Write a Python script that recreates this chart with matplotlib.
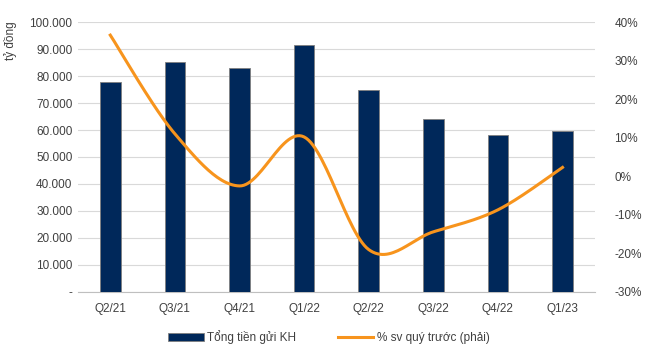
import numpy as np
import matplotlib.pyplot as plt
from matplotlib.ticker import FuncFormatter

plt.rcParams['font.family'] = ['Liberation Sans', 'DejaVu Sans']

quarters = ['Q2/21', 'Q3/21', 'Q4/21', 'Q1/22', 'Q2/22', 'Q3/22', 'Q4/22', 'Q1/23']
deposits = [77800, 85200, 83000, 91500, 74800, 64000, 58100, 59600]
qoq_pct = [36.6, 11.0, -2.5, 10.2, -19.0, -14.4, -8.7, 2.3]

bar_color = '#00285a'
line_color = '#f7941d'
grid_color = '#d9d9d9'
text_color = '#404040'


# smooth curve through the points (excel style smoothed line)
def smooth(xs, ys, n=30):
    pts = np.column_stack([xs, ys]).astype(float)
    pts = np.vstack([pts[0], pts, pts[-1]])
    out = []
    for i in range(1, len(pts) - 2):
        p0, p1, p2, p3 = pts[i - 1], pts[i], pts[i + 1], pts[i + 2]
        c1 = p1 + (p2 - p0) / 6
        c2 = p2 - (p3 - p1) / 6
        t = np.linspace(0, 1, n)[:, None]
        seg = (1 - t) ** 3 * p1 + 3 * (1 - t) ** 2 * t * c1 + 3 * (1 - t) * t ** 2 * c2 + t ** 3 * p2
        out.append(seg)
    out = np.vstack(out)
    return out[:, 0], out[:, 1]


fig = plt.figure(figsize=(6.58, 3.55), dpi=100)
ax = fig.add_axes([0.1185, 0.1775, 0.7855, 0.7605])
ax2 = ax.twinx()

x = np.arange(len(quarters))
ax.bar(x, deposits, width=0.32, color=bar_color, edgecolor='#7f7f7f', linewidth=0.6,
       label='Tổng tiền gửi KH', zorder=3)
ax.set_ylim(0, 100000)
ax.set_yticks(np.arange(0, 100001, 10000))
ax.yaxis.set_major_formatter(FuncFormatter(lambda v, _: '-' if v == 0 else f'{int(v):,}'.replace(',', '.')))
ax.set_xlim(-0.5, len(quarters) - 0.5)
ax.set_xticks(x)
ax.set_xticklabels(quarters)
ax.grid(axis='y', color=grid_color, linewidth=0.8, zorder=0)
ax.set_axisbelow(True)

xs, ys = smooth(x, qoq_pct)
ax2.plot(xs, ys, color=line_color, linewidth=2.2, label='% sv quý trước (phải)', zorder=4)
ax2.set_ylim(-30, 40)
ax2.set_yticks(np.arange(-30, 41, 10))
ax2.yaxis.set_major_formatter(FuncFormatter(lambda v, _: f'{int(v)}%'))

for a in (ax, ax2):
    for s in a.spines.values():
        s.set_visible(False)
    a.tick_params(length=0, labelsize=8.5, colors=text_color)
ax.spines['bottom'].set_visible(True)
ax.spines['bottom'].set_color('#bfbfbf')
ax.tick_params(axis='x', pad=8)
ax.tick_params(axis='y', pad=4)
ax2.tick_params(axis='y', pad=14)

ax.set_ylabel('tỷ đồng', fontsize=8.5, color=text_color)
ax.yaxis.set_label_coords(-0.118, 0.93)

h1, l1 = ax.get_legend_handles_labels()
h2, l2 = ax2.get_legend_handles_labels()
fig.legend(h1 + h2, l1 + l2, loc='center', bbox_to_anchor=(0.5, 0.05), ncol=2, frameon=False,
           fontsize=8.5, labelcolor=text_color, handlelength=3.0, columnspacing=3.5, handletextpad=0.3)

fig.savefig('out.png', dpi=100)
